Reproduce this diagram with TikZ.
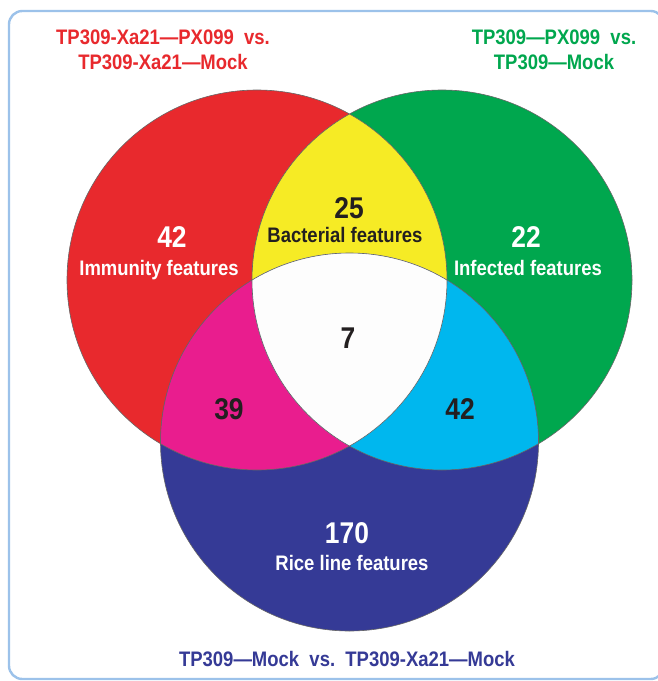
\documentclass[tikz,border=0pt]{standalone}
\usepackage{fontspec}
\setmainfont{Liberation Sans}[FakeStretch=0.88]
\definecolor{cRed}{HTML}{E8292D}
\definecolor{cGreen}{HTML}{00A74E}
\definecolor{cBlue}{HTML}{353A96}
\definecolor{cYellow}{HTML}{F6EB25}
\definecolor{cMag}{HTML}{E91D8E}
\definecolor{cCyan}{HTML}{00B7EE}
\definecolor{cWhite}{HTML}{FDFDFD}
\definecolor{cText}{HTML}{231F20}
\definecolor{cFrame}{HTML}{9CC2EA}
\begin{document}
\begin{tikzpicture}[x=0.75pt,y=-0.75pt,
  lbl/.style={font=\fontsize{15.75}{18}\selectfont\bfseries, inner sep=0pt, anchor=base},
  num/.style={font=\fontsize{22.5}{26}\selectfont\bfseries, inner sep=0pt, anchor=base},
  edgeline/.style={draw=black!60, line width=0.45pt}]
\useasboundingbox (0,0) rectangle (657,681);
\fill[white] (0,0) rectangle (657,681);
\draw[cFrame, line width=1.8pt, rounded corners=10pt] (9,11) rectangle (664,679);
\coordinate (cR) at (257,280);
\coordinate (cG) at (442,280);
\coordinate (cB) at (349.5,442);
\def\redc{(cR) circle[radius=190]}
\def\greenc{(cG) circle[radius=190]}
\def\bluec{(cB) circle[radius=189]}
\fill[cRed] \redc;
\fill[cGreen] \greenc;
\fill[cBlue] \bluec;
\begin{scope}\clip \redc; \fill[cYellow] \greenc;\end{scope}
\begin{scope}\clip \redc; \fill[cMag] \bluec;\end{scope}
\begin{scope}\clip \greenc; \fill[cCyan] \bluec;\end{scope}
\begin{scope}\clip \redc; \clip \greenc; \fill[cWhite] \bluec;\end{scope}
\draw[edgeline] \redc;
\draw[edgeline] \greenc;
\draw[edgeline] \bluec;
% titles
\node[lbl, text=cRed] (t1a) at (163,45) {TP309-Xa21—PX099\ \ vs.};
\node[lbl, text=cRed] (t1b) at (163,69.5) {TP309-Xa21—Mock};
\node[lbl, text=cGreen] (t2a) at (554,45) {TP309—PX099\ \ vs.};
\node[lbl, text=cGreen] (t2b) at (554,69.5) {TP309—Mock};
\node[lbl, text=cBlue] (t3) at (347,666) {TP309—Mock\ \ vs.\ \ TP309-Xa21—Mock};
% region labels
\node[num, text=white] (n42a) at (172,247) {42};
\node[lbl, text=white] (l42a) at (159,275) {Immunity features};
\node[num, text=cText] (n25) at (349,218) {25};
\node[lbl, text=cText] (l25) at (345,242) {Bacterial features};
\node[num, text=white] (n22) at (526,247) {22};
\node[lbl, text=white] (l22) at (528,275) {Infected features};
\node[num, text=cText] (n7) at (348,348) {7};
\node[num, text=cText] (n39) at (229,419) {39};
\node[num, text=cText] (n42b) at (460,419) {42};
\node[num, text=white] (n170) at (347,543) {170};
\node[lbl, text=white] (l170) at (352,570) {Rice line features};
\end{tikzpicture}
\end{document}
